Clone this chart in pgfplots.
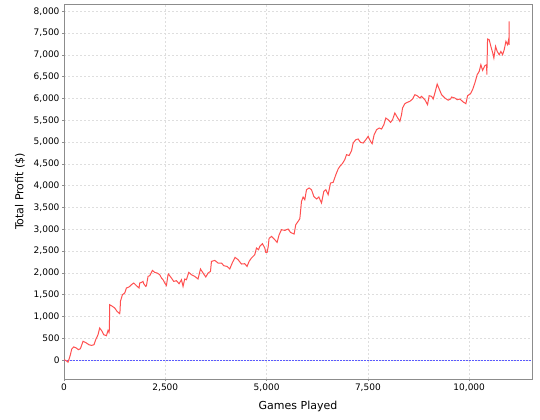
\documentclass[border=0pt]{standalone}
\usepackage{pgfplots}
\pgfplotsset{compat=1.18}
\usepackage{fontspec}
\setmainfont{DejaVu Sans}
\definecolor{profit}{RGB}{255,80,80}
\definecolor{zeroline}{RGB}{90,90,255}
\definecolor{gridc}{RGB}{222,222,222}
\definecolor{axisc}{RGB}{140,140,140}
\begin{document}
\begin{tikzpicture}
\useasboundingbox (-64bp,-41bp) rectangle (476bp,379bp);
\begin{axis}[
    at={(0,0)}, anchor=south west,
    scale only axis,
    width=468bp, height=375bp,
    xmin=0, xmax=11550,
    ymin=-436, ymax=8167,
    xtick={0,2500,5000,7500,10000},
    ytick={0,500,...,8000},
    scaled ticks=false,
    /pgf/number format/.cd, 1000 sep={,}, assume math mode=true,
    /pgfplots/.cd,
    tick label style={font=\fontsize{9bp}{10bp}\selectfont},
    xticklabel style={yshift=1bp},
    yticklabel style={xshift=1bp},
    label style={font=\fontsize{11bp}{13bp}\selectfont},
    xlabel={Games Played},
    ylabel={Total Profit (\$)},
    xlabel style={at={(axis description cs:0.5,-0.072)}, anchor=center},
    ylabel style={at={(axis description cs:-0.094,0.5)}, anchor=center},
    grid=major,
    major grid style={gridc, line width=0.5bp, dash pattern=on 2bp off 2bp},
    axis line style={axisc, line width=0.8bp},
    tick style={axisc, line width=0.5bp},
    tick align=outside,
    major tick length=2bp,
    xtick pos=bottom, ytick pos=left,
]
\addplot[zeroline, line width=0.7bp, dash pattern=on 2bp off 1bp] coordinates {(0,0) (11550,0)};
\addplot[profit, line width=1bp] coordinates {
(0,0) (17,0) (60,-20) (100,-50) (125,20) (158,120) (190,250) (240,300) (305,275)
(355,236) (405,260) (470,430) (535,400) (617,350) (676,335) (740,350) (783,466)
(840,580) (880,734) (930,672) (980,580) (1047,557) (1087,680) (1111,633) (1120,700)
(1128,1268) (1195,1230) (1252,1193) (1310,1115) (1375,1062) (1385,1150) (1392,1344)
(1442,1498) (1499,1537) (1540,1652) (1605,1675) (1664,1727) (1721,1766) (1788,1704)
(1852,1652) (1869,1766) (1911,1780) (1950,1803) (1968,1750) (2017,1688) (2034,1704)
(2074,1918) (2116,1934) (2182,2055) (2239,2010) (2296,1996) (2363,1957) (2405,1881)
(2444,1842) (2486,1766) (2528,1711) (2568,1957) (2577,1973) (2651,1881) (2708,1803)
(2775,1819) (2840,1750) (2899,1842) (2938,1688) (2980,1858) (3022,1842) (3079,2010)
(3146,1957) (3227,1918) (3308,1858) (3368,2088) (3432,1996) (3499,1904) (3556,1996)
(3615,2032) (3639,2262) (3721,2285) (3802,2225) (3886,2225) (3943,2163) (4025,2147)
(4091,2088) (4158,2239) (4222,2354) (4296,2301) (4380,2202) (4461,2209) (4518,2147)
(4568,2262) (4627,2340) (4667,2377) (4708,2416) (4750,2569) (4800,2530) (4832,2606)
(4898,2668) (4955,2569) (4980,2469) (5012,2469) (5040,2600) (5061,2790) (5121,2835)
(5202,2760) (5259,2698) (5309,2874) (5368,2989) (5449,2973) (5531,3005) (5590,2927)
(5679,2890) (5720,3104) (5778,3180) (5820,3241) (5861,3638) (5901,3739) (5943,3677)
(5985,3907) (6049,3946) (6108,3907) (6165,3753) (6232,3693) (6289,3739) (6355,3601)
(6412,3868) (6462,3907) (6519,3792) (6577,4060) (6642,4075) (6709,4251) (6766,4382)
(6807,4441) (6874,4510) (6931,4600) (6972,4710) (7037,4690) (7096,4800) (7136,4978)
(7202,5054) (7259,5070) (7318,4992) (7383,4978) (7449,5054) (7506,5130) (7565,5015)
(7605,4962) (7654,5168) (7714,5283) (7778,5322) (7837,5299) (7894,5398) (7943,5551)
(8000,5512) (8059,5451) (8108,5512) (8165,5666) (8222,5574) (8289,5474) (8330,5627)
(8355,5781) (8412,5880) (8469,5910) (8535,5933) (8602,5987) (8659,6086) (8716,6063)
(8782,6010) (8824,6048) (8906,5972) (8972,5857) (9012,6063) (9071,6048) (9111,5987)
(9153,6125) (9210,6330) (9260,6217) (9318,6086) (9399,6010) (9481,5960) (9540,5987)
(9565,6033) (9646,6010) (9703,5971) (9770,5987) (9851,5920) (9918,5880) (9960,6063)
(10034,6109) (10083,6201) (10140,6354) (10197,6545) (10247,6621) (10288,6774)
(10330,6644) (10387,6752) (10429,6774) (10436,6545) (10453,7364) (10494,7347)
(10535,7194) (10577,7056) (10609,6928) (10651,7194) (10691,7079) (10741,7003)
(10782,7079) (10824,7003) (10864,7118) (10906,7309) (10947,7233) (10972,7347)
(10985,7230) (10988,7767)
};
\end{axis}
\end{tikzpicture}
\end{document}
